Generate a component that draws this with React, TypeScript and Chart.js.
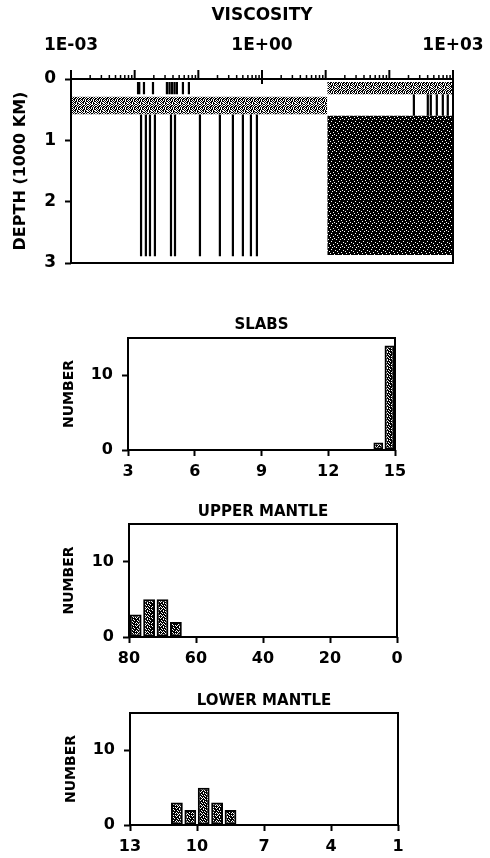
import React, { useEffect, useRef } from 'react';
import { Chart, registerables } from 'chart.js';

Chart.register(...registerables);

const FONT = 'DejaVu Sans';

// ---------- Panel 1: viscosity vs depth ----------
const viscosityTitle = 'VISCOSITY';
const depthAxisTitle = 'DEPTH (1000 KM)';
const viscosityDecades = [1e-3, 1e-2, 1e-1, 1, 10, 100, 1000];
const viscosityMinorSteps = [2, 3, 4, 5, 6, 7, 8, 9];
const viscosityLabeledValues = [1e-3, 1, 1e3];
const viscosityTickLabels = ['1E-03', '1E+00', '1E+03'];
const depthTicks = [0, 1, 2, 3];

// shallow layer (thin black lines, left)
const shallowLineViscosity = [0.0113, 0.0118, 0.014, 0.0194, 0.0321, 0.0352, 0.0385, 0.0422, 0.0461, 0.0573, 0.0711];
const shallowLineDepth = [0.05, 0.25];
// shallow band (grey, right)
const shallowBandViscosity = [10.6, 1000];
const shallowBandDepth = [0.05, 0.25];
// middle band (grey, left)
const midBandViscosity = [0.001, 10.6];
const midBandDepth = [0.29, 0.575];
// middle lines (right)
const midLineViscosity = [243, 402, 448, 557, 692, 828];
const midLineDepth = [0.25, 0.6];
// deep lines (left)
const deepLineViscosity = [0.0126, 0.015, 0.0174, 0.0208, 0.0372, 0.043, 0.106, 0.218, 0.349, 0.501, 0.67, 0.832];
const deepLineDepth = [0.58, 2.89];
// deep block (dark, right)
const deepBlockViscosity = [10.6, 1000];
const deepBlockDepth = [0.6, 2.87];

// ---------- Histograms ----------
const countAxisTitle = 'NUMBER';
const countTicks = [0, 10];
const countMax = 15;

const slabsTitle = 'SLABS';
const slabsBinCenters = [14.25, 14.75];
const slabsCounts = [1, 14];
const slabsTicks = [3, 6, 9, 12, 15];

const upperMantleTitle = 'UPPER MANTLE';
const upperMantleBinCenters = [78, 74, 70, 66];
const upperMantleCounts = [3, 5, 5, 2];
const upperMantleTicks = [80, 60, 40, 20, 0];

const lowerMantleTitle = 'LOWER MANTLE';
const lowerMantleBinCenters = [10.9, 10.3, 9.7, 9.1, 8.5];
const lowerMantleCounts = [3, 2, 5, 3, 2];
const lowerMantleTicks = [13, 10, 7, 4, 1];

// ---------- helpers ----------
function makePattern(rows: string[]) {
  const c = document.createElement('canvas');
  c.width = rows[0].length;
  c.height = rows.length;
  const g = c.getContext('2d')!;
  g.fillStyle = '#fff';
  g.fillRect(0, 0, c.width, c.height);
  g.fillStyle = '#000';
  rows.forEach((r, y) => {
    for (let x = 0; x < r.length; x++) if (r[x] === '#') g.fillRect(x, y, 1, 1);
  });
  return g.createPattern(c, 'repeat')!;
}

const GREY_ROWS = [
  '#.#..#.#',
  '.#.##.#.',
  '#.##.#.#',
  '.##.#.##',
  '#.#.#.#.',
  '.#.##.##',
  '#.##.#..',
  '.#.#.##.',
];
const DARK_ROWS = [
  '########',
  '###.####',
  '#######.',
  '#.######',
  '#####.##',
  '##.#####',
  '######.#',
  '.###.###',
];
const BAR_ROWS = [
  '##.#.###',
  '#.###.#.',
  '.##.####',
  '###.#.##',
  '#.####.#',
  '##.#.###',
  '.####.##',
  '#.#.###.',
];

const near = (a: number, b: number) => Math.abs(a - b) <= Math.abs(b) * 1e-6;

const framePlugin = {
  id: 'frame',
  afterDraw(chart: any) {
    const { left, top, right, bottom } = chart.chartArea;
    const ctx = chart.ctx;
    ctx.save();
    ctx.strokeStyle = '#000';
    ctx.lineWidth = 2;
    ctx.strokeRect(left, top, right - left, bottom - top);
    ctx.restore();
  },
};

const topTicksPlugin = {
  id: 'topTicks',
  afterDraw(chart: any) {
    const sx = chart.scales.x;
    const ctx = chart.ctx;
    const top = chart.chartArea.top;
    ctx.save();
    ctx.strokeStyle = '#000';
    sx.ticks.forEach((t: any) => {
      const px = sx.getPixelForValue(t.value);
      const decade = viscosityDecades.some((d) => near(t.value, d));
      const labeled = viscosityLabeledValues.some((d) => near(t.value, d));
      const up = decade ? 9 : 4;
      const down = labeled ? 5 : 0;
      ctx.lineWidth = decade ? 2 : 1.5;
      ctx.beginPath();
      ctx.moveTo(px, top - up);
      ctx.lineTo(px, top + down);
      ctx.stroke();
    });
    ctx.restore();
  },
};

function rectDataset(xs: number[], ds: number[], bg: any) {
  return {
    data: [
      { x: xs[0], y: ds[1] },
      { x: xs[1], y: ds[1] },
    ],
    fill: { value: ds[0] },
    backgroundColor: bg,
    borderWidth: 0,
    pointRadius: 0,
  };
}

function linesDataset(vals: number[], ds: number[]) {
  const data: any[] = [];
  vals.forEach((v) => {
    data.push({ x: v, y: ds[0] }, { x: v, y: ds[1] }, { x: v, y: null });
  });
  return {
    data,
    borderColor: '#000',
    borderWidth: 2.2,
    borderCapStyle: 'butt',
    pointRadius: 0,
    fill: false,
    spanGaps: false,
  };
}

function viscosityConfig(grey: any, dark: any): any {
  const tickValues: number[] = [];
  viscosityDecades.forEach((d, i) => {
    tickValues.push(d);
    if (i < viscosityDecades.length - 1) viscosityMinorSteps.forEach((m) => tickValues.push(m * d));
  });
  return {
    type: 'line',
    data: {
      datasets: [
        rectDataset(shallowBandViscosity, shallowBandDepth, grey),
        rectDataset(midBandViscosity, midBandDepth, grey),
        rectDataset(deepBlockViscosity, deepBlockDepth, dark),
        linesDataset(shallowLineViscosity, shallowLineDepth),
        linesDataset(midLineViscosity, midLineDepth),
        linesDataset(deepLineViscosity, deepLineDepth),
      ],
    },
    options: {
      animation: false,
      responsive: false,
      events: [],
      layout: { padding: { left: 0, right: 37, top: 0, bottom: 22 } },
      plugins: {
        legend: { display: false },
        tooltip: { enabled: false },
        title: {
          display: true,
          text: viscosityTitle,
          fullSize: false,
          color: '#000',
          font: { family: FONT, size: 17, weight: 'bold', lineHeight: 1.2 },
          padding: { top: 5, bottom: 0 },
        },
      },
      scales: {
        x: {
          type: 'logarithmic',
          position: 'top',
          min: 1e-3,
          max: 1e3,
          afterBuildTicks: (s: any) => {
            s.ticks = tickValues.map((v) => ({ value: v }));
          },
          afterFit: (s: any) => {
            s.height = 53.6;
          },
          grid: { display: false, drawTicks: true, tickLength: 22 },
          border: { display: false },
          ticks: {
            autoSkip: false,
            maxRotation: 0,
            minRotation: 0,
            padding: 1,
            color: '#000',
            font: { family: FONT, size: 17, weight: 'bold', lineHeight: 1.2 },
            callback: (v: any) => {
              const i = viscosityLabeledValues.findIndex((d) => near(Number(v), d));
              return i >= 0 ? viscosityTickLabels[i] : '';
            },
          },
        },
        y: {
          type: 'linear',
          min: 0,
          max: 3,
          reverse: true,
          afterBuildTicks: (s: any) => {
            s.ticks = depthTicks.map((v) => ({ value: v }));
          },
          afterFit: (s: any) => {
            s.width = 71;
          },
          grid: {
            display: true,
            drawOnChartArea: false,
            drawTicks: true,
            tickLength: 6,
            tickWidth: 2,
            tickColor: '#000',
          },
          border: { display: false },
          ticks: {
            padding: 9,
            color: '#000',
            font: { family: FONT, size: 17, weight: 'bold', lineHeight: 1.2 },
          },
          title: {
            display: true,
            text: depthAxisTitle,
            color: '#000',
            font: { family: FONT, size: 16, weight: 'bold', lineHeight: 1.2 },
            padding: { top: 11.4, bottom: 0 },
          },
        },
      },
    },
    plugins: [framePlugin, topTicksPlugin],
  };
}

interface HistLayout {
  titleTop: number;
  titleBottom: number;
  xHeight: number;
  yWidth: number;
  yTitlePad: number;
  right: number;
}

function histogramConfig(
  title: string,
  centers: number[],
  counts: number[],
  xTicks: number[],
  reverse: boolean,
  L: HistLayout,
  fillPattern: any
): any {
  const xMin = Math.min(...xTicks);
  const xMax = Math.max(...xTicks);
  return {
    type: 'bar',
    data: {
      datasets: [
        {
          data: centers.map((c, i) => ({ x: c, y: counts[i] })),
          backgroundColor: fillPattern,
          borderColor: '#000',
          borderWidth: 2,
          borderSkipped: false,
          barPercentage: 0.88,
          categoryPercentage: 1,
        },
      ],
    },
    options: {
      animation: false,
      responsive: false,
      events: [],
      layout: { padding: { left: 0, right: L.right, top: 0, bottom: 0 } },
      plugins: {
        legend: { display: false },
        tooltip: { enabled: false },
        title: {
          display: true,
          text: title,
          fullSize: false,
          color: '#000',
          font: { family: FONT, size: 15, weight: 'bold', lineHeight: 1.2 },
          padding: { top: L.titleTop, bottom: L.titleBottom },
        },
      },
      scales: {
        x: {
          type: 'linear',
          min: xMin,
          max: xMax,
          reverse,
          offset: false,
          afterBuildTicks: (s: any) => {
            s.ticks = xTicks.map((v) => ({ value: v }));
          },
          afterFit: (s: any) => {
            s.height = L.xHeight;
          },
          grid: {
            display: true,
            offset: false,
            drawOnChartArea: false,
            drawTicks: true,
            tickLength: 6,
            tickWidth: 2,
            tickColor: '#000',
          },
          border: { display: false },
          ticks: {
            autoSkip: false,
            maxRotation: 0,
            minRotation: 0,
            padding: 6,
            color: '#000',
            font: { family: FONT, size: 16, weight: 'bold', lineHeight: 1.2 },
          },
        },
        y: {
          type: 'linear',
          min: 0,
          max: countMax,
          afterBuildTicks: (s: any) => {
            s.ticks = countTicks.map((v) => ({ value: v }));
          },
          afterFit: (s: any) => {
            s.width = L.yWidth;
          },
          grid: {
            display: true,
            drawOnChartArea: false,
            drawTicks: true,
            tickLength: 6,
            tickWidth: 2,
            tickColor: '#000',
          },
          border: { display: false },
          ticks: {
            padding: 9,
            color: '#000',
            font: { family: FONT, size: 16, weight: 'bold', lineHeight: 1.2 },
          },
          title: {
            display: true,
            text: countAxisTitle,
            color: '#000',
            font: { family: FONT, size: 14, weight: 'bold', lineHeight: 1.2 },
            padding: { top: L.yTitlePad, bottom: 0 },
          },
        },
      },
    },
    plugins: [framePlugin],
  };
}

const PANELS = [
  { top: 0, height: 285 },
  { top: 285, height: 195 },
  { top: 480, height: 190 },
  { top: 670, height: 188 },
];

export default function App() {
  const r0 = useRef<HTMLCanvasElement>(null);
  const r1 = useRef<HTMLCanvasElement>(null);
  const r2 = useRef<HTMLCanvasElement>(null);
  const r3 = useRef<HTMLCanvasElement>(null);

  useEffect(() => {
    Chart.defaults.font.family = FONT;
    Chart.defaults.color = '#000';
    const grey = makePattern(GREY_ROWS);
    const dark = makePattern(DARK_ROWS);
    const bar = makePattern(BAR_ROWS);
    const charts: Chart[] = [];
    charts.push(new Chart(r0.current!, viscosityConfig(grey, dark)));
    charts.push(
      new Chart(
        r1.current!,
        histogramConfig(slabsTitle, slabsBinCenters, slabsCounts, slabsTicks, false,
          { titleTop: 31, titleBottom: 4, xHeight: 30, yWidth: 128, yTitlePad: 60.6, right: 95 }, bar)
      )
    );
    charts.push(
      new Chart(
        r2.current!,
        histogramConfig(upperMantleTitle, upperMantleBinCenters, upperMantleCounts, upperMantleTicks, true,
          { titleTop: 23, titleBottom: 3, xHeight: 33, yWidth: 129, yTitlePad: 60.6, right: 93 }, bar)
      )
    );
    charts.push(
      new Chart(
        r3.current!,
        histogramConfig(lowerMantleTitle, lowerMantleBinCenters, lowerMantleCounts, lowerMantleTicks, true,
          { titleTop: 22, titleBottom: 3, xHeight: 33, yWidth: 130, yTitlePad: 62.6, right: 92 }, bar)
      )
    );
    return () => charts.forEach((c) => c.destroy());
  }, []);

  const refs = [r0, r1, r2, r3];
  return (
    <div style={{ position: 'absolute', left: 0, top: 0, width: 490, height: 858, background: '#fff' }}>
      {PANELS.map((p, i) => (
        <canvas
          key={i}
          ref={refs[i]}
          width={490}
          height={p.height}
          style={{ position: 'absolute', left: 0, top: p.top, width: 490, height: p.height, display: 'block' }}
        />
      ))}
    </div>
  );
}
